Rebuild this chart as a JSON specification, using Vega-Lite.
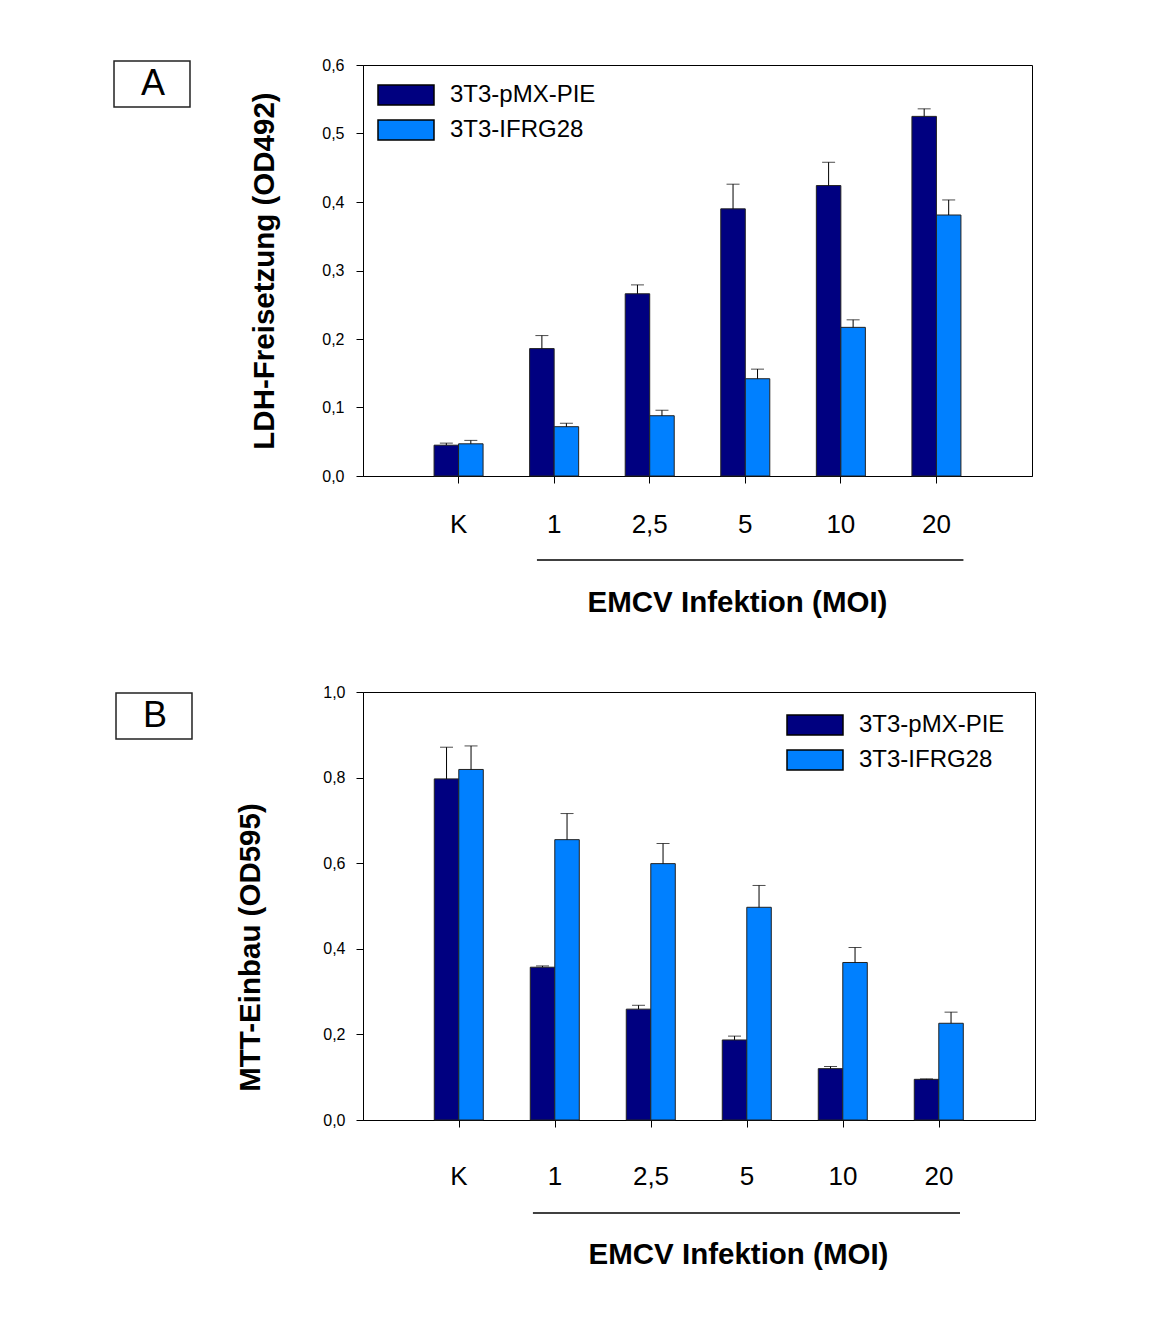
{
  "$schema": "https://vega.github.io/schema/vega-lite/v6.json",
  "background": "white",
  "padding": {"top": 56, "left": 127, "right": 5, "bottom": 5},
  "spacing": 66,
  "resolve": {"scale": {"fill": "independent", "stroke": "independent"}, "legend": {"fill": "independent", "stroke": "independent"}},
  "config": {
    "font": "Liberation Sans",
    "view": {"stroke": "black", "strokeWidth": 1},
    "axis": {"grid": false, "domainColor": "black", "tickColor": "black", "labelColor": "black", "titleColor": "black", "labelFont": "Liberation Sans", "titleFont": "Liberation Sans"},
    "legend": {"labelFont": "Liberation Sans", "labelColor": "black"}
  },
  "vconcat": [
    {
      "width": 669,
      "height": 411,
      "data": {"values": [
        {"panel": "A", "moi": "K", "series": "3T3-pMX-PIE", "value": 0.045, "upper": 0.048},
        {"panel": "A", "moi": "K", "series": "3T3-IFRG28", "value": 0.047, "upper": 0.052},
        {"panel": "A", "moi": "1", "series": "3T3-pMX-PIE", "value": 0.186, "upper": 0.205},
        {"panel": "A", "moi": "1", "series": "3T3-IFRG28", "value": 0.072, "upper": 0.077},
        {"panel": "A", "moi": "2,5", "series": "3T3-pMX-PIE", "value": 0.266, "upper": 0.279},
        {"panel": "A", "moi": "2,5", "series": "3T3-IFRG28", "value": 0.088, "upper": 0.096},
        {"panel": "A", "moi": "5", "series": "3T3-pMX-PIE", "value": 0.39, "upper": 0.426},
        {"panel": "A", "moi": "5", "series": "3T3-IFRG28", "value": 0.142, "upper": 0.156},
        {"panel": "A", "moi": "10", "series": "3T3-pMX-PIE", "value": 0.424, "upper": 0.458},
        {"panel": "A", "moi": "10", "series": "3T3-IFRG28", "value": 0.217, "upper": 0.228},
        {"panel": "A", "moi": "20", "series": "3T3-pMX-PIE", "value": 0.525, "upper": 0.536},
        {"panel": "A", "moi": "20", "series": "3T3-IFRG28", "value": 0.381, "upper": 0.403}
      ]},
      "layer": [
        {
          "mark": {"type": "bar", "strokeWidth": 1},
          "encoding": {
            "x": {"field": "moi", "type": "nominal", "sort": ["K", "1", "2,5", "5", "10", "20"],
                  "scale": {"paddingInner": 0, "paddingOuter": 0.5},
                  "title": "EMCV Infektion (MOI)",
                  "axis": {"labelAngle": 0, "labelFontSize": 26, "tickSize": 7, "labelPadding": 28, "titleFontSize": 29.5, "titleFontWeight": "bold", "titlePadding": 51, "titleX": 374, "titleAlign": "center"}},
            "xOffset": {"field": "series", "type": "nominal", "sort": ["3T3-pMX-PIE", "3T3-IFRG28"], "scale": {"paddingInner": 0, "paddingOuter": 0.95}},
            "y": {"field": "value", "type": "quantitative", "scale": {"domain": [0, 0.6], "nice": false},
                  "title": "LDH-Freisetzung (OD492)",
                  "axis": {"values": [0, 0.1, 0.2, 0.3, 0.4, 0.5, 0.6], "labelExpr": "replace(format(datum.value, '.1f'), '.', ',')", "labelFontSize": 16, "tickSize": 7, "labelPadding": 12, "titleFontSize": 29.5, "titleFontWeight": "bold", "titlePadding": 42}},
            "fill": {"field": "series", "type": "nominal", "sort": ["3T3-pMX-PIE", "3T3-IFRG28"],
                     "scale": {"range": ["#000080", "#0080FF"]},
                     "legend": {"orient": "none", "legendX": 31, "legendY": 18, "title": null, "symbolType": "M-2.8,-1L2.8,-1L2.8,1L-2.8,1Z", "symbolSize": 400, "symbolStrokeColor": "black", "symbolStrokeWidth": 1.5, "labelFontSize": 24, "labelOffset": 32, "rowPadding": 9}},
            "stroke": {"field": "panel", "type": "nominal", "scale": {"range": ["#222222"]},
                       "legend": {"orient": "none", "legendX": -235, "legendY": -5, "title": null, "symbolType": "M-1.652,-1L1.652,-1L1.652,1L-1.652,1Z", "symbolSize": 2116, "symbolFillColor": "transparent", "symbolStrokeColor": "black", "symbolStrokeWidth": 1.5, "labelFontSize": 36, "labelAlign": "center", "labelOffset": -23}}
          }
        },
        {
          "mark": {"type": "rule", "color": "black", "strokeWidth": 1},
          "encoding": {
            "x": {"field": "moi", "type": "nominal", "sort": ["K", "1", "2,5", "5", "10", "20"]},
            "xOffset": {"field": "series", "type": "nominal", "sort": ["3T3-pMX-PIE", "3T3-IFRG28"]},
            "y": {"field": "value", "type": "quantitative"},
            "y2": {"field": "upper"}
          }
        },
        {
          "mark": {"type": "tick", "color": "black", "thickness": 1, "size": 13},
          "encoding": {
            "x": {"field": "moi", "type": "nominal", "sort": ["K", "1", "2,5", "5", "10", "20"]},
            "xOffset": {"field": "series", "type": "nominal", "sort": ["3T3-pMX-PIE", "3T3-IFRG28"]},
            "y": {"field": "upper", "type": "quantitative"}
          }
        },
        {
          "data": {"values": [{}]},
          "mark": {"type": "rule", "color": "black", "strokeWidth": 1.5, "x2Offset": 27},
          "encoding": {
            "x": {"datum": "1", "bandPosition": 0.32},
            "x2": {"datum": "20"},
            "y": {"datum": -0.1226}
          }
        }
      ]
    },
    {
      "width": 672,
      "height": 428,
      "data": {"values": [
        {"panel": "B", "moi": "K", "series": "3T3-pMX-PIE", "value": 0.797, "upper": 0.871},
        {"panel": "B", "moi": "K", "series": "3T3-IFRG28", "value": 0.819, "upper": 0.874},
        {"panel": "B", "moi": "1", "series": "3T3-pMX-PIE", "value": 0.357, "upper": 0.360},
        {"panel": "B", "moi": "1", "series": "3T3-IFRG28", "value": 0.655, "upper": 0.716},
        {"panel": "B", "moi": "2,5", "series": "3T3-pMX-PIE", "value": 0.259, "upper": 0.268},
        {"panel": "B", "moi": "2,5", "series": "3T3-IFRG28", "value": 0.599, "upper": 0.646},
        {"panel": "B", "moi": "5", "series": "3T3-pMX-PIE", "value": 0.187, "upper": 0.196},
        {"panel": "B", "moi": "5", "series": "3T3-IFRG28", "value": 0.497, "upper": 0.548},
        {"panel": "B", "moi": "10", "series": "3T3-pMX-PIE", "value": 0.120, "upper": 0.125},
        {"panel": "B", "moi": "10", "series": "3T3-IFRG28", "value": 0.368, "upper": 0.403},
        {"panel": "B", "moi": "20", "series": "3T3-pMX-PIE", "value": 0.095, "upper": 0.096},
        {"panel": "B", "moi": "20", "series": "3T3-IFRG28", "value": 0.226, "upper": 0.252}
      ]},
      "layer": [
        {
          "mark": {"type": "bar", "strokeWidth": 1},
          "encoding": {
            "x": {"field": "moi", "type": "nominal", "sort": ["K", "1", "2,5", "5", "10", "20"],
                  "scale": {"paddingInner": 0, "paddingOuter": 0.5},
                  "title": "EMCV Infektion (MOI)",
                  "axis": {"labelAngle": 0, "labelFontSize": 26, "tickSize": 7, "labelPadding": 36, "titleFontSize": 29.5, "titleFontWeight": "bold", "titlePadding": 51, "titleX": 375, "titleAlign": "center"}},
            "xOffset": {"field": "series", "type": "nominal", "sort": ["3T3-pMX-PIE", "3T3-IFRG28"], "scale": {"paddingInner": 0, "paddingOuter": 0.95}},
            "y": {"field": "value", "type": "quantitative", "scale": {"domain": [0, 1], "nice": false},
                  "title": "MTT-Einbau (OD595)",
                  "axis": {"values": [0, 0.2, 0.4, 0.6, 0.8, 1.0], "labelExpr": "replace(format(datum.value, '.1f'), '.', ',')", "labelFontSize": 16, "tickSize": 7, "labelPadding": 11, "titleFontSize": 29.5, "titleFontWeight": "bold", "titlePadding": 57, "titleY": 255}},
            "fill": {"field": "series", "type": "nominal", "sort": ["3T3-pMX-PIE", "3T3-IFRG28"],
                     "scale": {"range": ["#000080", "#0080FF"]},
                     "legend": {"orient": "none", "legendX": 440, "legendY": 21, "title": null, "symbolType": "M-2.8,-1L2.8,-1L2.8,1L-2.8,1Z", "symbolSize": 400, "symbolStrokeColor": "black", "symbolStrokeWidth": 1.5, "labelFontSize": 24, "labelOffset": 32, "rowPadding": 9}},
            "stroke": {"field": "panel", "type": "nominal", "scale": {"range": ["#222222"]},
                       "legend": {"orient": "none", "legendX": -233, "legendY": 0, "title": null, "symbolType": "M-1.652,-1L1.652,-1L1.652,1L-1.652,1Z", "symbolSize": 2116, "symbolFillColor": "transparent", "symbolStrokeColor": "black", "symbolStrokeWidth": 1.5, "labelFontSize": 36, "labelAlign": "center", "labelOffset": -23}}
          }
        },
        {
          "mark": {"type": "rule", "color": "black", "strokeWidth": 1},
          "encoding": {
            "x": {"field": "moi", "type": "nominal", "sort": ["K", "1", "2,5", "5", "10", "20"]},
            "xOffset": {"field": "series", "type": "nominal", "sort": ["3T3-pMX-PIE", "3T3-IFRG28"]},
            "y": {"field": "value", "type": "quantitative"},
            "y2": {"field": "upper"}
          }
        },
        {
          "mark": {"type": "tick", "color": "black", "thickness": 1, "size": 13},
          "encoding": {
            "x": {"field": "moi", "type": "nominal", "sort": ["K", "1", "2,5", "5", "10", "20"]},
            "xOffset": {"field": "series", "type": "nominal", "sort": ["3T3-pMX-PIE", "3T3-IFRG28"]},
            "y": {"field": "upper", "type": "quantitative"}
          }
        },
        {
          "data": {"values": [{}]},
          "mark": {"type": "rule", "color": "black", "strokeWidth": 1.5, "x2Offset": 21},
          "encoding": {
            "x": {"datum": "1", "bandPosition": 0.27},
            "x2": {"datum": "20"},
            "y": {"datum": -0.2173}
          }
        }
      ]
    }
  ]
}
